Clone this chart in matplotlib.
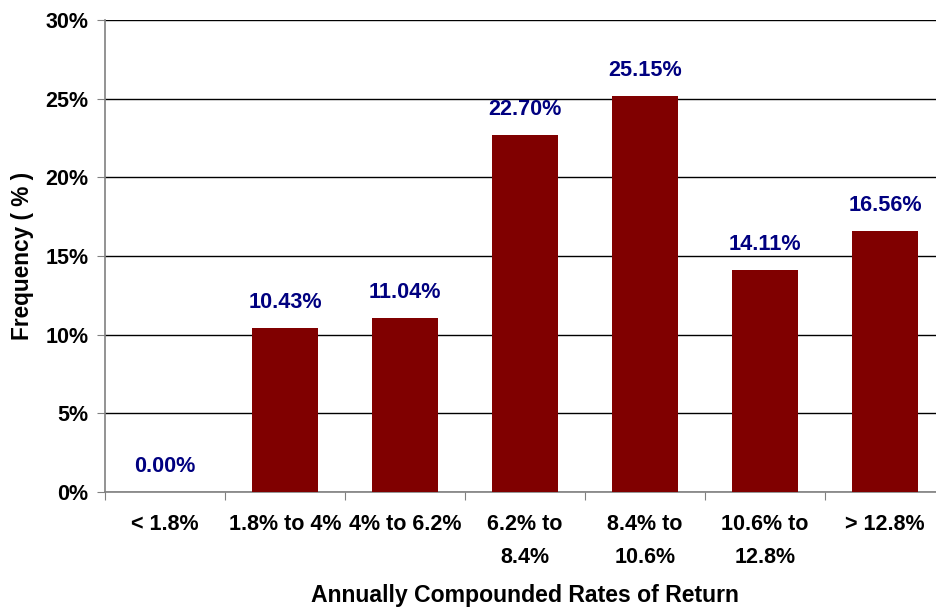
import numpy as np
import matplotlib.pyplot as plt

plt.rcParams['font.family'] = ['Liberation Sans', 'DejaVu Sans']
plt.rcParams['font.weight'] = 'bold'

# categorias y frecuencias (%)
categorias = ['< 1.8%', '1.8% to 4%', '4% to 6.2%', '6.2% to\n8.4%',
              '8.4% to\n10.6%', '10.6% to\n12.8%', '> 12.8%']
frecuencias = [0.00, 10.43, 11.04, 22.70, 25.15, 14.11, 16.56]

fig = plt.figure(figsize=(9.36, 6.10), dpi=100)
ax = fig.add_axes([105/936, 1-492/610, 840/936, 472/610])

x = np.arange(len(categorias))
ax.bar(x, frecuencias, width=0.55, color='#800000', zorder=3)

for xi, v in zip(x, frecuencias):
    ax.annotate('%.2f%%' % v, (xi, v), xytext=(0, 18.5), textcoords='offset points',
                ha='center', va='center', color='#000080', fontsize=15.6, fontweight='bold')

ax.set_xlim(-0.5, len(categorias) - 0.5)
ax.set_ylim(0, 30)
ax.set_yticks(range(0, 31, 5))
ax.set_yticklabels(['%d%%' % t for t in range(0, 31, 5)], fontsize=15.5)
ax.yaxis.grid(True, color='black', linewidth=1, zorder=0)

# ticks en los limites de las categorias
ax.set_xticks(np.arange(-0.5, len(categorias), 1.0))
ax.set_xticklabels([])
ax.set_xticks(x, minor=True)
ax.set_xticklabels(categorias, minor=True, fontsize=15.5, linespacing=1.75)
ax.tick_params(axis='x', which='minor', length=0, pad=16)
ax.tick_params(axis='x', which='major', length=6, color='#808080')
ax.tick_params(axis='y', length=6, color='#808080', pad=6)

for s in ['top', 'right']:
    ax.spines[s].set_visible(False)
for s in ['left', 'bottom']:
    ax.spines[s].set_color('#808080')
    ax.spines[s].set_linewidth(1.2)

ax.set_xlabel('Annually Compounded Rates of Return', fontsize=16.6, fontweight='bold', labelpad=11.5)
ax.set_ylabel('Frequency ( % )', fontsize=16.3, fontweight='bold', labelpad=8)

fig.savefig('out.png', dpi=100)
